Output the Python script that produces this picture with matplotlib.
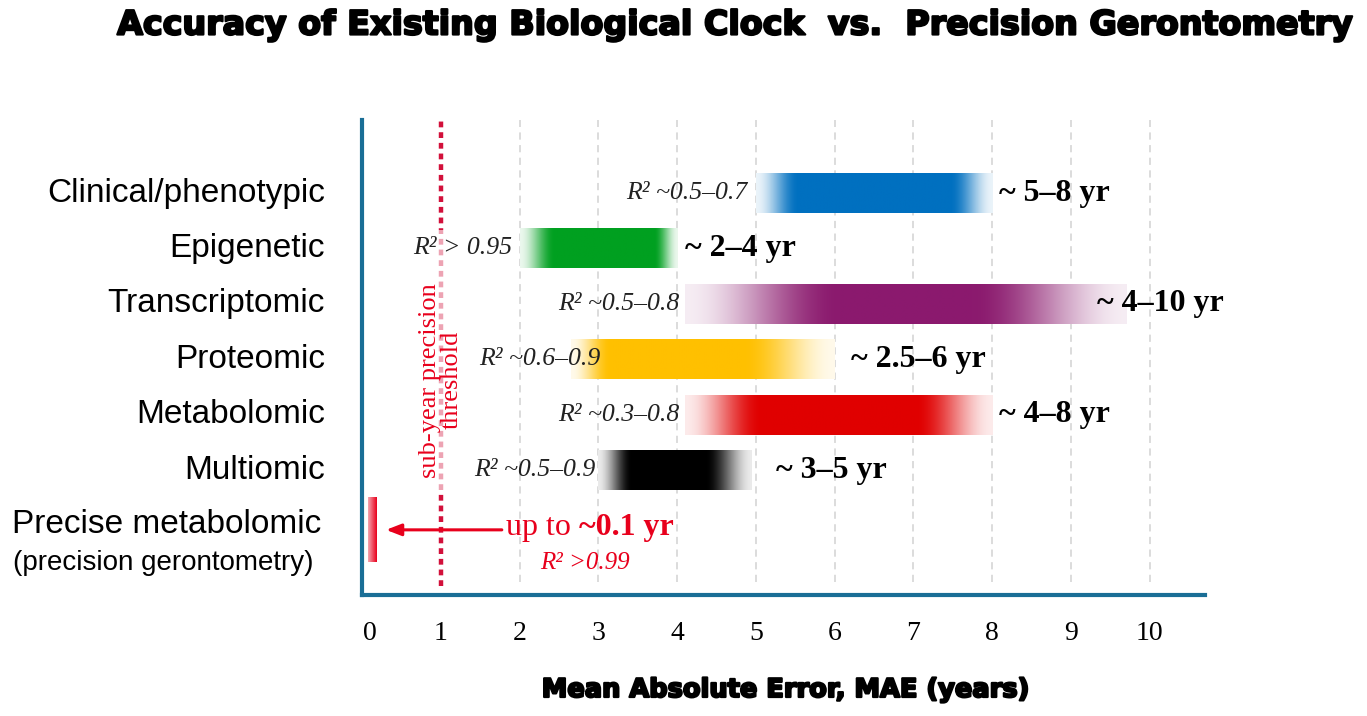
import numpy as np
import matplotlib
matplotlib.use("Agg")
import matplotlib.pyplot as plt
from matplotlib.colors import to_rgb
from matplotlib.patches import Rectangle
import matplotlib.patheffects as pe
import matplotlib.transforms as mtransforms

# data
categories = ["Clinical/phenotypic", "Epigenetic", "Transcriptomic",
              "Proteomic", "Metabolomic", "Multiomic"]
mae_low = [5.0, 2.0, 4.1, 2.65, 4.1, 3.0]
mae_high = [8.0, 4.0, 9.7, 6.0, 8.0, 4.95]
range_labels = ["~ 5–8 yr", "~ 2–4 yr", "~ 4–10 yr", "~ 2.5–6 yr", "~ 4–8 yr", "~ 3–5 yr"]
r2_labels = ["R² ~0.5–0.7", "R² > 0.95", "R² ~0.5–0.8", "R² ~0.6–0.9", "R² ~0.3–0.8", "R² ~0.5–0.9"]
bar_colors = ["#0070c0", "#00a020", "#8b1a6e", "#ffc000", "#e00000", "#000000"]

precise_label = "Precise metabolomic"
precise_sub = "(precision gerontometry)"
precise_low, precise_high = 0.08, 0.19
precise_mae = "~0.1 yr"
precise_r2 = "R² >0.99"
threshold = 1.0
xticks = list(range(0, 11))

# styling
fade_in = [0.18, 0.22, 0.35, 0.15, 0.25, 0.22]
fade_out = [0.18, 0.15, 0.35, 0.35, 0.25, 0.3]
label_pad = [5, 6, -21, 12, 5, 17]
r2_pad = [-6, -5, -4, 21, -4, -2]
SERIF = "Liberation Serif"
SANS = "Liberation Sans"
RED = "#e8001c"
SPINE = "#1a6e96"

fig = plt.figure(figsize=(13.67, 7.16), dpi=100)
ax = fig.add_axes([362 / 1367, 1 - 595 / 716, (1205 - 362) / 1367, (595 - 120) / 716])

ys = np.arange(len(categories), 0, -1)  # 6..1
y_precise = -0.08
bar_h = 0.72


def grad_bar(x0, x1, yc, h, color, fin, fout, n=400):
    t = np.linspace(0, 1, n)
    a = np.clip(np.minimum(t / fin, (1 - t) / fout), 0, 1)
    a = 0.08 + 0.92 * (a * a * (3 - 2 * a))
    rgb = np.array(to_rgb(color))
    img = 1 - a[:, None] * (1 - rgb)
    ax.imshow(img[None, :, :], extent=(x0, x1, yc - h / 2, yc + h / 2),
              aspect="auto", interpolation="bilinear", zorder=3)


for i, cat in enumerate(categories):
    grad_bar(mae_low[i], mae_high[i], ys[i], bar_h, bar_colors[i], fade_in[i], fade_out[i])
    ax.annotate(range_labels[i], xy=(mae_high[i], ys[i]), xytext=(label_pad[i], 0),
                textcoords="offset points", ha="left", va="center",
                fontsize=23, fontweight="bold", family=SERIF, zorder=5)
    ax.annotate(r2_labels[i], xy=(mae_low[i], ys[i]), xytext=(r2_pad[i], 0),
                textcoords="offset points", ha="right", va="center",
                fontsize=18.5, style="italic", family=SERIF, color="#222222", zorder=5)

# precise metabolomic bar (fades towards the left)
t = np.linspace(0, 1, 50)
a = 0.35 + 0.65 * t
img = 1 - a[:, None] * (1 - np.array(to_rgb(RED)))
ax.imshow(img[None, :, :], extent=(precise_low, precise_high, y_precise - 0.58, y_precise + 0.58),
          aspect="auto", interpolation="bilinear", zorder=3)

# category labels
lab_tr = mtransforms.blended_transform_factory(ax.transAxes, ax.transData)
for i, cat in enumerate(categories):
    ax.text(-0.044, ys[i], cat, transform=lab_tr, ha="right", va="center",
            fontsize=24, family=SANS)
ax.text(-0.232, 0.01, precise_label, transform=lab_tr, ha="center", va="center",
        fontsize=24, family=SANS)
ax.text(-0.236, -0.68, precise_sub, transform=lab_tr, ha="center", va="center",
        fontsize=20, family=SANS)

# grid and threshold line
for x in xticks[2:]:
    ax.axvline(x, ymin=0.027, ymax=1, color="#d9d9d9", lw=1.3, ls=(0, (4, 3)), zorder=1)
ax.axvline(threshold, ymin=0.02, ymax=1, color="#d2103a", lw=3.2, ls=(0, (1.3, 1.1)), zorder=2)
ax.add_patch(Rectangle((threshold - 0.12, 0.64), 0.24, 5.33 - 0.64, facecolor="white",
                       edgecolor="none", alpha=0.62, zorder=2.5))
ax.text(threshold, 2.62, "sub-year precision\nthreshold", rotation=90, ha="center", va="center",
        fontsize=19, family=SERIF, color=RED, linespacing=1.0, zorder=4)

# arrow and annotation for precise clock
ax.annotate("", xy=(0.27, y_precise), xytext=(1.81, y_precise),
            arrowprops=dict(arrowstyle="-|>,head_length=0.9,head_width=0.35", color=RED, lw=2.2),
            zorder=4)
t1 = ax.text(1.83, -0.04, "up to ", ha="left", va="center", fontsize=23, family=SERIF,
             color=RED, zorder=5)
ax.annotate(precise_mae, xy=(1, 0), xycoords=t1, ha="left", va="bottom",
            fontsize=23, fontweight="bold", family=SERIF, color=RED, zorder=5)
ax.text(2.83, -0.68, precise_r2, ha="center", va="center", fontsize=18, style="italic",
        family=SERIF, color=RED, zorder=5)

ax.set_xlim(0, 10.7)
ax.set_ylim(-1.256, 7.318)
ax.set_xticks(xticks)
ax.set_xticklabels([str(x) for x in xticks], family=SERIF, fontsize=20)
ax.tick_params(axis="x", length=0, pad=19)
zero_lab = ax.get_xticklabels()[0]
zero_lab.set_transform(zero_lab.get_transform()
                       + mtransforms.ScaledTranslation(8 / 100, 0, fig.dpi_scale_trans))
ax.set_yticks([])
for s in ["top", "right"]:
    ax.spines[s].set_visible(False)
for s in ["left", "bottom"]:
    ax.spines[s].set_color(SPINE)
    ax.spines[s].set_linewidth(3)

thick = [pe.withStroke(linewidth=1.6, foreground="black")]
fig.text(786 / 1367, 1 - 690 / 716, "Mean Absolute Error, MAE (years)", ha="center", va="center",
         fontsize=18.5, fontweight="heavy", family="DejaVu Sans", path_effects=thick)
fig.text(735 / 1367, 1 - 25 / 716, "Accuracy of Existing Biological Clock  vs.  Precision Gerontometry",
         ha="center", va="center", fontsize=24, fontweight="heavy", family="DejaVu Sans",
         path_effects=thick)

fig.savefig("out.png", dpi=100)
